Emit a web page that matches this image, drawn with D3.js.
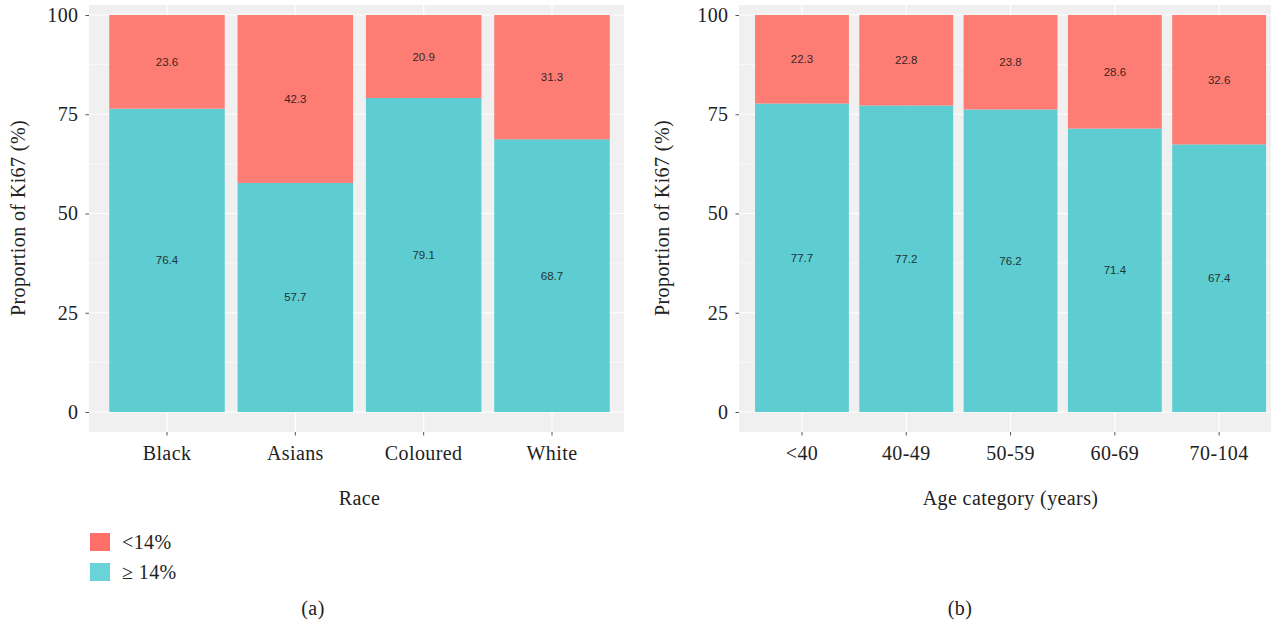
<!DOCTYPE html>
<html>
<head>
<meta charset="utf-8">
<script src="https://cdn.jsdelivr.net/npm/d3@7"></script>
<style>
  body { margin: 0; background: #fff; }
  svg { display: block; }
</style>
</head>
<body>
<svg id="chart"></svg>
<script>
// Ki67 proportions (%) by race and by age category
const races = ['Black', 'Asians', 'Coloured', 'White']
const raceHigh = [76.4, 57.7, 79.1, 68.7] // >= 14%
const raceLow = [23.6, 42.3, 20.9, 31.3] // < 14%

const ages = ['<40', '40-49', '50-59', '60-69', '70-104']
const ageHigh = [77.7, 77.2, 76.2, 71.4, 67.4]
const ageLow = [22.3, 22.8, 23.8, 28.6, 32.6]

const yTicks = [0, 25, 50, 75, 100]
const legendLabels = ['<14%', '\u2265 14%']

const W = 1271
const H = 629
const serif = '"Liberation Serif", "Times New Roman", serif'
const sans = '"Liberation Sans", Arial, sans-serif'
const colLow = '#fd7d75'
const colHigh = '#5ecdd1'

const svg = d3.select('#chart')
  .attr('width', W)
  .attr('height', H)

const y = d3.scaleLinear().domain([0, 100]).range([412, 15])

function serifText (sel, size = 20) {
  return sel
    .attr('font-family', serif)
    .attr('font-size', size)
    .attr('letter-spacing', 0.4)
    .attr('fill', '#222')
}

function panel (opts) {
  const g = svg.append('g')
  const x = d3.scaleBand()
    .domain(opts.cats)
    .range(opts.range)
    .paddingInner(0.1)
    .paddingOuter(0.15)

  const clipId = 'clip-' + opts.id
  svg.append('clipPath').attr('id', clipId)
    .append('rect')
    .attr('x', opts.bg[0]).attr('y', 5)
    .attr('width', opts.bg[1] - opts.bg[0]).attr('height', 427)

  const inner = g.append('g').attr('clip-path', `url(#${clipId})`)

  inner.append('rect')
    .attr('x', opts.bg[0]).attr('y', 5)
    .attr('width', opts.bg[1] - opts.bg[0]).attr('height', 427)
    .attr('fill', '#f0f0f0')

  // minor + major grid
  const minor = d3.range(12.5, 100, 25)
  inner.selectAll('.gmin').data(minor).join('line')
    .attr('x1', opts.bg[0]).attr('x2', opts.bg[1])
    .attr('y1', d => y(d)).attr('y2', d => y(d))
    .attr('stroke', '#fff').attr('stroke-width', 0.6)
  inner.selectAll('.gmaj').data(yTicks).join('line')
    .attr('x1', opts.bg[0]).attr('x2', opts.bg[1])
    .attr('y1', d => y(d)).attr('y2', d => y(d))
    .attr('stroke', '#fff').attr('stroke-width', 1.2)
  inner.selectAll('.gx').data(opts.cats).join('line')
    .attr('x1', d => x(d) + x.bandwidth() / 2).attr('x2', d => x(d) + x.bandwidth() / 2)
    .attr('y1', 5).attr('y2', 432)
    .attr('stroke', '#fff').attr('stroke-width', 1.2)

  const rows = opts.cats.map((c, i) => ({ cat: c, high: opts.high[i], low: opts.low[i] }))

  // bars: >= 14% at bottom, < 14% stacked on top
  inner.selectAll('.bh').data(rows).join('rect')
    .attr('x', d => x(d.cat)).attr('width', x.bandwidth())
    .attr('y', d => y(d.high)).attr('height', d => y(0) - y(d.high))
    .attr('fill', colHigh)
  inner.selectAll('.bl').data(rows).join('rect')
    .attr('x', d => x(d.cat)).attr('width', x.bandwidth())
    .attr('y', d => y(d.high + d.low)).attr('height', d => y(d.high) - y(d.high + d.low))
    .attr('fill', colLow)

  inner.selectAll('.th').data(rows).join('text')
    .attr('x', d => x(d.cat) + x.bandwidth() / 2)
    .attr('y', d => y(d.high / 2))
    .attr('dy', '0.35em')
    .attr('text-anchor', 'middle')
    .attr('font-family', sans).attr('font-size', 11.5)
    .attr('fill', '#1e3335')
    .text(d => d.high.toFixed(1))
  inner.selectAll('.tl').data(rows).join('text')
    .attr('x', d => x(d.cat) + x.bandwidth() / 2)
    .attr('y', d => y(d.high + d.low / 2))
    .attr('dy', '0.35em')
    .attr('text-anchor', 'middle')
    .attr('font-family', sans).attr('font-size', 11.5)
    .attr('fill', '#3a2523')
    .text(d => d.low.toFixed(1))

  // axes
  const yAxis = g.append('g')
    .attr('transform', `translate(${opts.bg[0]},0)`)
    .call(d3.axisLeft(y).tickValues(yTicks).tickSize(3.5).tickPadding(7))
  yAxis.select('.domain').remove()
  yAxis.selectAll('line').attr('stroke', '#555')
  serifText(yAxis.selectAll('text'))

  const xAxis = g.append('g')
    .attr('transform', 'translate(0,432)')
    .call(d3.axisBottom(x).tickSize(3.5).tickPadding(10))
  xAxis.select('.domain').remove()
  xAxis.selectAll('line').attr('stroke', '#555')
  serifText(xAxis.selectAll('text'))

  const cx = (opts.range[0] + opts.range[1]) / 2
  serifText(g.append('text'))
    .attr('x', cx).attr('y', 505)
    .attr('text-anchor', 'middle')
    .text(opts.xTitle)

  serifText(g.append('text'))
    .attr('transform', `translate(${opts.yTitleX},218) rotate(-90)`)
    .attr('text-anchor', 'middle')
    .text('Proportion of Ki67 (%)')

  serifText(g.append('text'))
    .attr('x', opts.capX).attr('y', 615)
    .attr('text-anchor', 'middle')
    .text(opts.caption)
}

panel({ id: 'a', cats: races, high: raceHigh, low: raceLow, range: [90, 629], bg: [89, 624], xTitle: 'Race', yTitleX: 25, capX: 313, caption: '(a)' })
panel({ id: 'b', cats: ages, high: ageHigh, low: ageLow, range: [739.4, 1281.7], bg: [739, 1271], xTitle: 'Age category (years)', yTitleX: 669, capX: 960, caption: '(b)' })

// legend
const legend = svg.append('g')
const legendCols = ['#ff6f6a', '#69d3d7']
legend.selectAll('rect').data(legendLabels).join('rect')
  .attr('x', 90).attr('y', (d, i) => 533 + i * 30)
  .attr('width', 20).attr('height', 18)
  .attr('fill', (d, i) => legendCols[i])
serifText(legend.selectAll('text').data(legendLabels).join('text'))
  .attr('x', 122).attr('y', (d, i) => 542 + i * 30)
  .attr('dy', '0.35em')
  .text(d => d)
</script>
</body>
</html>
